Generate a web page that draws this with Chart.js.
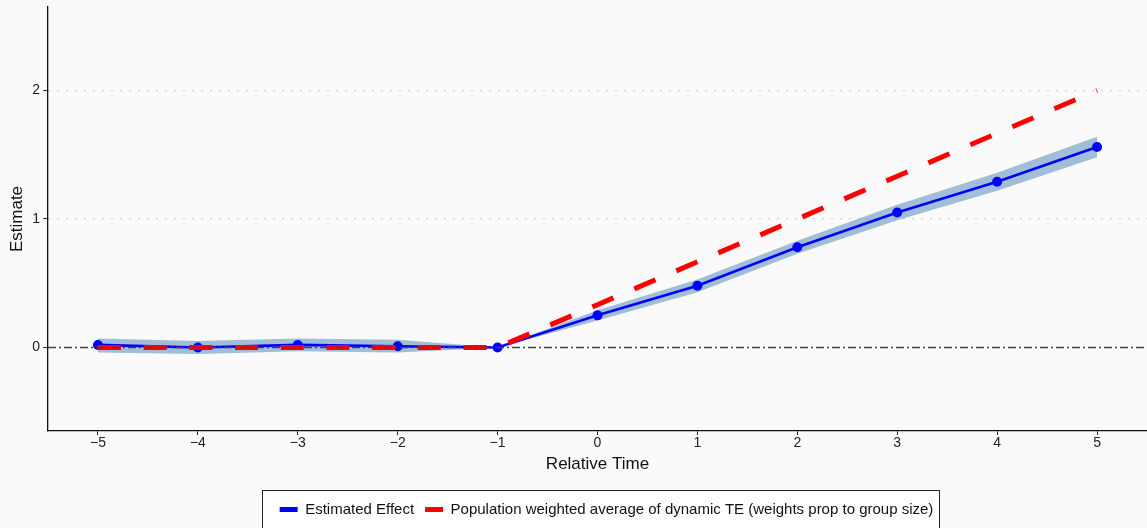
<!DOCTYPE html>
<html>
<head>
<meta charset="utf-8">
<script src="https://cdn.jsdelivr.net/npm/chart.js@4.4.0/dist/chart.umd.min.js"></script>
<style>
    html, body { margin: 0; padding: 0; background: #fafafa; }
    #wrap { width: 1147px; height: 528px; }
</style>
</head>
<body>
<div id="wrap"><canvas id="esChart" width="1147" height="528"></canvas></div>
<script>
// event-study values
var relTime = [-5, -4, -3, -2, -1, 0, 1, 2, 3, 4, 5];
var estimate = [0.02, 0.00, 0.02, 0.01, 0.00, 0.25, 0.48, 0.78, 1.05, 1.29, 1.56];
var ciLower = [-0.04, -0.05, -0.03, -0.04, 0.00, 0.21, 0.43, 0.73, 0.99, 1.22, 1.48];
var ciUpper = [0.07, 0.05, 0.07, 0.06, 0.00, 0.29, 0.53, 0.83, 1.11, 1.36, 1.64];
var popWeighted = [0, 0, 0, 0, 0, 0.333, 0.667, 1.0, 1.333, 1.667, 2.0];
var xTicks = [-5, -4, -3, -2, -1, 0, 1, 2, 3, 4, 5];
var yTicks = [0, 1, 2];
var xRange = [-5.5, 5.5];
var yRange = [-0.65, 2.65];

function pts(values) {
    return relTime.map(function (t, i) { return { x: t, y: values[i] }; });
}
function fmt(v) {
    return v < 0 ? '\u2212' + Math.abs(v) : String(v);
}

var FONT = "'Liberation Sans', Arial, sans-serif";

// background, legend centred under the plot, box round it
var legendBox = {
    id: 'legendBox',
    afterLayout: function (chart) {
        var lg = chart.legend, ca = chart.chartArea;
        var shift = (ca.left + ca.right) / 2 - (lg.left + lg.right) / 2 + 9;
        lg.left += shift;
        lg.right += shift;
        (lg.legendHitBoxes || []).forEach(function (h) { h.left += shift; });
    },
    beforeDraw: function (chart) {
        var c = chart.ctx;
        c.save();
        c.fillStyle = '#fafafa';
        c.fillRect(0, 0, chart.width, chart.height);
        var hb = chart.legend.legendHitBoxes;
        if (hb && hb.length) {
            var l = Math.min.apply(null, hb.map(function (h) { return h.left; })) - 18;
            var r = Math.max.apply(null, hb.map(function (h) { return h.left + h.width; })) + 5;
            var cy = hb[0].top + hb[0].height / 2;
            c.fillStyle = '#ffffff';
            c.fillRect(l, cy - 20, r - l, 39);
            c.strokeStyle = '#222';
            c.lineWidth = 1;
            c.strokeRect(Math.round(l) + 0.5, Math.round(cy - 20) + 0.5, Math.round(r - l), 39);
        }
        c.restore();
    }
};

new Chart(document.getElementById('esChart'), {
    type: 'line',
    data: {
        datasets: [{
            label: 'ciLower',
            data: pts(ciLower),
            borderWidth: 0,
            pointRadius: 0,
            fill: false,
            order: 10
        }, {
            label: 'ciUpper',
            data: pts(ciUpper),
            borderWidth: 0,
            pointRadius: 0,
            backgroundColor: 'rgba(70,130,180,0.5)',
            fill: '-1',
            order: 9
        }, {
            label: 'Estimated Effect',
            data: pts(estimate),
            borderColor: '#0000ff',
            backgroundColor: '#0000ff',
            borderWidth: 2.6,
            pointRadius: 5,
            pointHoverRadius: 5,
            pointBackgroundColor: '#0000ff',
            pointBorderWidth: 0,
            fill: false,
            order: 5
        }, {
            label: 'Population weighted average of dynamic TE (weights prop to group size)',
            data: pts(popWeighted),
            borderColor: '#ff0000',
            backgroundColor: '#ff0000',
            borderWidth: 5,
            borderDash: [23, 22.7],
            pointRadius: 0,
            fill: false,
            order: 3
        }, {
            label: 'zero',
            data: [{ x: xRange[0], y: 0 }, { x: xRange[1], y: 0 }],
            borderColor: '#444',
            borderWidth: 1.5,
            borderDash: [8, 3, 2, 3],
            pointRadius: 0,
            fill: false,
            order: 1
        }]
    },
    options: {
        responsive: false,
        devicePixelRatio: 1,
        animation: false,
        layout: { autoPadding: false, padding: { left: 0, right: 0, top: 7, bottom: 1 } },
        plugins: {
            tooltip: { enabled: false },
            legend: {
                position: 'bottom',
                labels: {
                    font: { family: FONT, size: 15 },
                    color: '#111',
                    boxWidth: 18,
                    boxHeight: 5,
                    padding: 11,
                    sort: function (a, b) { return a.datasetIndex - b.datasetIndex; },
                    filter: function (item) {
                        return item.text === 'Estimated Effect' || item.text.indexOf('Population') === 0;
                    },
                    generateLabels: function (chart) {
                        var items = Chart.defaults.plugins.legend.labels.generateLabels(chart);
                        items.forEach(function (it) {
                            it.fillStyle = it.strokeStyle;
                            it.lineWidth = 0;
                            it.lineDash = [];
                        });
                        return items;
                    }
                }
            }
        },
        scales: {
            x: {
                type: 'linear',
                min: xRange[0],
                max: xRange[1],
                afterBuildTicks: function (scale) {
                    scale.ticks = xTicks.map(function (v) { return { value: v }; });
                },
                afterFit: function (scale) { scale.height = 60; },
                grid: { drawOnChartArea: false, drawTicks: true, tickLength: 4, tickColor: '#222', tickWidth: 1 },
                border: { display: true, color: '#111', width: 1.3 },
                ticks: {
                    font: { family: FONT, size: 14 },
                    color: '#222',
                    padding: 0,
                    maxRotation: 0,
                    callback: function (v) { return fmt(v); }
                },
                title: {
                    display: true,
                    text: 'Relative Time',
                    font: { family: FONT, size: 17 },
                    color: '#111',
                    padding: { top: 16, bottom: 16 }
                }
            },
            y: {
                type: 'linear',
                min: yRange[0],
                max: yRange[1],
                afterBuildTicks: function (scale) {
                    scale.ticks = yTicks.map(function (v) { return { value: v }; });
                },
                afterFit: function (scale) {
                    scale.width = 48;
                    scale.paddingTop = 0;
                    scale.paddingBottom = 0;
                },
                grid: {
                    drawTicks: true,
                    tickLength: 5,
                    tickColor: '#222',
                    tickWidth: 1,
                    tickBorderDash: [],
                    lineWidth: 1.2,
                    color: function (ctx) {
                        return ctx.tick && ctx.tick.value === 0 ? 'rgba(0,0,0,0)' : '#c4c4c4';
                    }
                },
                border: { display: true, color: '#111', width: 1.3, dash: [1.5, 7.5] },
                ticks: {
                    font: { family: FONT, size: 14 },
                    color: '#222',
                    padding: 3,
                    callback: function (v) { return fmt(v); }
                },
                title: {
                    display: true,
                    text: 'Estimate',
                    font: { family: FONT, size: 17 },
                    color: '#111',
                    padding: { top: 7, bottom: 7 }
                }
            }
        }
    },
    plugins: [legendBox]
});
</script>
</body>
</html>
